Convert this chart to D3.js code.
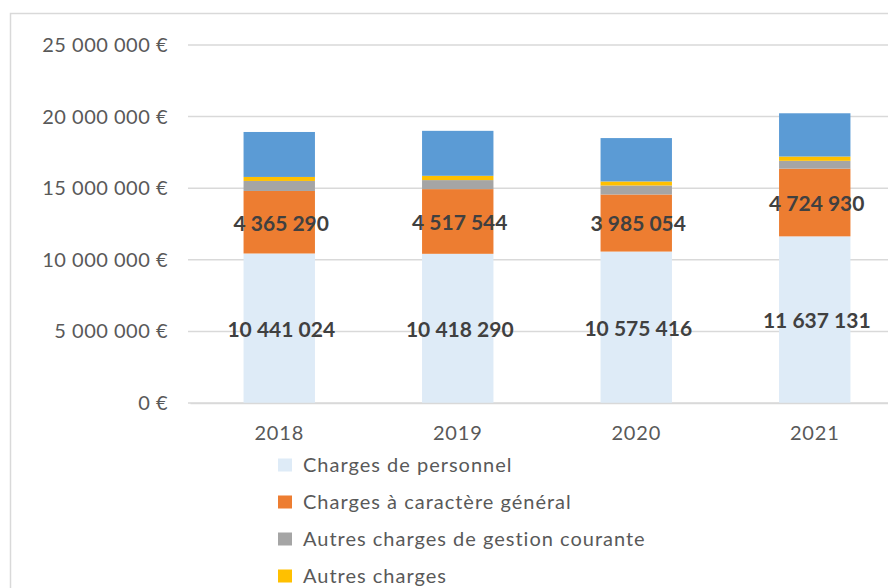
<!DOCTYPE html>
<html>
<head>
<meta charset="utf-8">
<script src="https://cdn.jsdelivr.net/npm/d3@7"></script>
<style>
  body { margin: 0; background: #fff; }
  svg { display: block; font-family: Lato, "Open Sans", sans-serif; }
</style>
</head>
<body>
<svg id="chart" width="888" height="588"></svg>
<script>
"use strict";

var years = ["2018", "2019", "2020", "2021"];
var personnel = [10441024, 10418290, 10575416, 11637131];
var general = [4365290, 4517544, 3985054, 4724930];
var gestion = [700000, 630000, 630000, 550000];
var autres = [280000, 300000, 280000, 300000];
var autresDepenses = [3140000, 3140000, 3030000, 3020000];
var yTicks = [0, 5000000, 10000000, 15000000, 20000000, 25000000];

var seriesNames = ["Charges de personnel", "Charges à caractère général",
    "Autres charges de gestion courante", "Autres charges", "Charges exceptionnelles"];
var seriesColors = ["#deebf7", "#ed7d31", "#a5a5a5", "#ffc000", "#5b9bd5"];
var seriesValues = [personnel, general, gestion, autres, autresDepenses];

var rows = years.map(function(y, i) {
    var r = { year: y };
    seriesNames.forEach(function(n, k) { r[n] = seriesValues[k][i]; });
    return r;
});

var svg = d3.select("#chart");

// cadre du graphique
svg.append("rect")
    .attr("x", 10.5).attr("y", 13.5)
    .attr("width", 900).attr("height", 600)
    .attr("fill", "none").attr("stroke", "#d9d9d9").attr("stroke-width", 1.5);

var xScale = d3.scaleBand().domain(years).range([190, 904]).paddingInner(0.6).paddingOuter(0.3);
var yScale = d3.scaleLinear().domain([0, 25000000]).range([403, 45]);

var fr = d3.formatLocale({ decimal: ",", thousands: "\u00a0", grouping: [3], currency: ["", "\u00a0€"] });
var fmtInt = fr.format(",d");

// grille
svg.append("g").selectAll("line").data(yTicks).join("line")
    .attr("x1", 188).attr("x2", 888)
    .attr("y1", function(d) { return yScale(d); })
    .attr("y2", function(d) { return yScale(d); })
    .attr("stroke", "#d9d9d9").attr("stroke-width", 1.5);

var yAxis = svg.append("g")
    .attr("transform", "translate(168,0)")
    .call(d3.axisLeft(yScale).tickValues(yTicks).tickSize(0).tickPadding(0)
        .tickFormat(function(d) { return fmtInt(d) + "\u00a0€"; }));
yAxis.select(".domain").remove();
yAxis.selectAll("text").attr("font-size", 20).attr("letter-spacing", 0.5)
    .attr("fill", "#595959").attr("font-family", "Lato");

var stack = d3.stack().keys(seriesNames)(rows);

svg.append("g").selectAll("g").data(stack).join("g")
    .attr("fill", function(d, k) { return seriesColors[k]; })
    .selectAll("rect").data(function(d) { return d; }).join("rect")
    .attr("x", function(d) { return xScale(d.data.year); })
    .attr("width", xScale.bandwidth())
    .attr("y", function(d) { return yScale(d[1]); })
    .attr("height", function(d) { return yScale(d[0]) - yScale(d[1]); });

// étiquettes des deux premières séries
stack.slice(0, 2).forEach(function(s) {
    svg.append("g").selectAll("text").data(s).join("text")
        .attr("x", function(d) { return xScale(d.data.year) + xScale.bandwidth() / 2 + 2; })
        .attr("y", function(d) { return (yScale(d[0]) + yScale(d[1])) / 2 + 1; })
        .attr("dy", "0.35em")
        .attr("text-anchor", "middle")
        .attr("font-size", 21).attr("font-weight", "bold")
        .attr("fill", "#404040")
        .text(function(d) { return fmtInt(d[1] - d[0]); });
});

var xAxis = svg.append("g")
    .attr("transform", "translate(0,403)")
    .call(d3.axisBottom(xScale).tickSize(0).tickPadding(23));
xAxis.select(".domain").attr("stroke", "#d9d9d9").attr("stroke-width", 1.5);
xAxis.selectAll("text").attr("font-size", 20).attr("letter-spacing", 0.8)
    .attr("fill", "#595959").attr("font-family", "Lato");

// légende
var legend = svg.append("g").selectAll("g").data(seriesNames).join("g")
    .attr("transform", function(d, i) { return "translate(278," + (465 + i * 37) + ")"; });
legend.append("rect")
    .attr("y", -6.5).attr("width", 14).attr("height", 13)
    .attr("fill", function(d, i) { return seriesColors[i]; });
legend.append("text")
    .attr("x", 25).attr("dy", "0.35em")
    .attr("font-size", 20).attr("letter-spacing", 1).attr("fill", "#595959")
    .text(function(d) { return d; });
</script>
</body>
</html>
